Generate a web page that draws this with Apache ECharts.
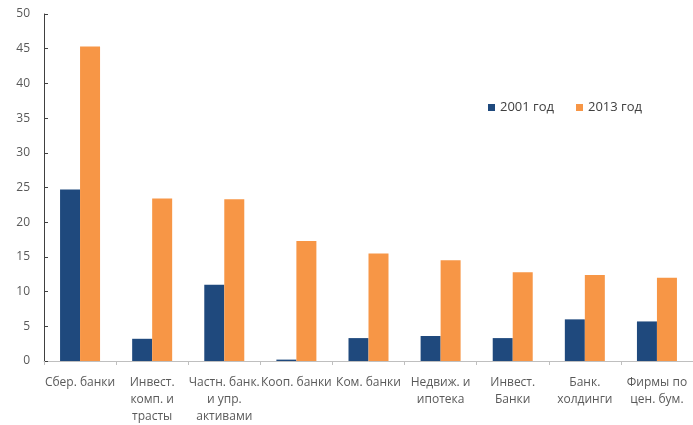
<!DOCTYPE html>
<html><head><meta charset="utf-8">
<script src="https://cdn.jsdelivr.net/npm/echarts@6/dist/echarts.min.js"></script>
<style>html,body{margin:0;padding:0;background:#fff}#c{width:693px;height:425px}</style>
</head><body><div id="c"></div>
<script>
const categories = ["Сбер. банки","Инвест.\nкомп. и\nтрасты","Частн. банк.\nи упр.\nактивами","Кооп. банки","Ком. банки","Недвиж. и\nипотека","Инвест.\nБанки","Банк.\nхолдинги","Фирмы по\nцен. бум."];
const series2001 = [24.7, 3.2, 11.0, 0.2, 3.3, 3.6, 3.3, 6.0, 5.7];
const series2013 = [45.3, 23.4, 23.3, 17.3, 15.5, 14.5, 12.8, 12.4, 12.0];
const seriesNames = ["2001 год", "2013 год"];

const chart = echarts.init(document.getElementById('c'));
const font = "'Open Sans', 'Noto Sans', sans-serif";
chart.setOption({
  animation: false,
  textStyle: {fontFamily: font},
  legend: {
    left: 483, top: 96, itemWidth: 7, itemHeight: 7, itemGap: 22,
    icon: 'rect',
    textStyle: {color: '#404040', fontSize: 13, fontFamily: font},
    data: seriesNames
  },
  grid: {left: 44, top: 14, width: 657, height: 354, containLabel: false},
  xAxis: {
    type: 'category', data: categories,
    axisLine: {lineStyle: {color: '#bfbfbf', width: 1}},
    axisTick: {show: true, length: 4, alignWithLabel: false, lineStyle: {color: '#bfbfbf'}},
    axisLabel: {color: '#595959', fontSize: 12, lineHeight: 17, margin: 13, interval: 0, fontFamily: font}
  },
  yAxis: {
    type: 'value', min: 0, max: 50, interval: 5,
    splitLine: {show: false},
    axisLine: {show: true, lineStyle: {color: '#404040', width: 1}},
    axisTick: {show: true, inside: true, length: 4, lineStyle: {color: '#404040'}},
    axisLabel: {color: '#595959', fontSize: 12, margin: 14, fontFamily: font}
  },
  series: [
    {name: seriesNames[0], type: 'bar', data: series2001, barWidth: 20, barGap: '0%', itemStyle: {color: '#1f497d'}},
    {name: seriesNames[1], type: 'bar', data: series2013, barWidth: 20, barGap: '0%', itemStyle: {color: '#f79646'}}
  ]
});
</script></body></html>
